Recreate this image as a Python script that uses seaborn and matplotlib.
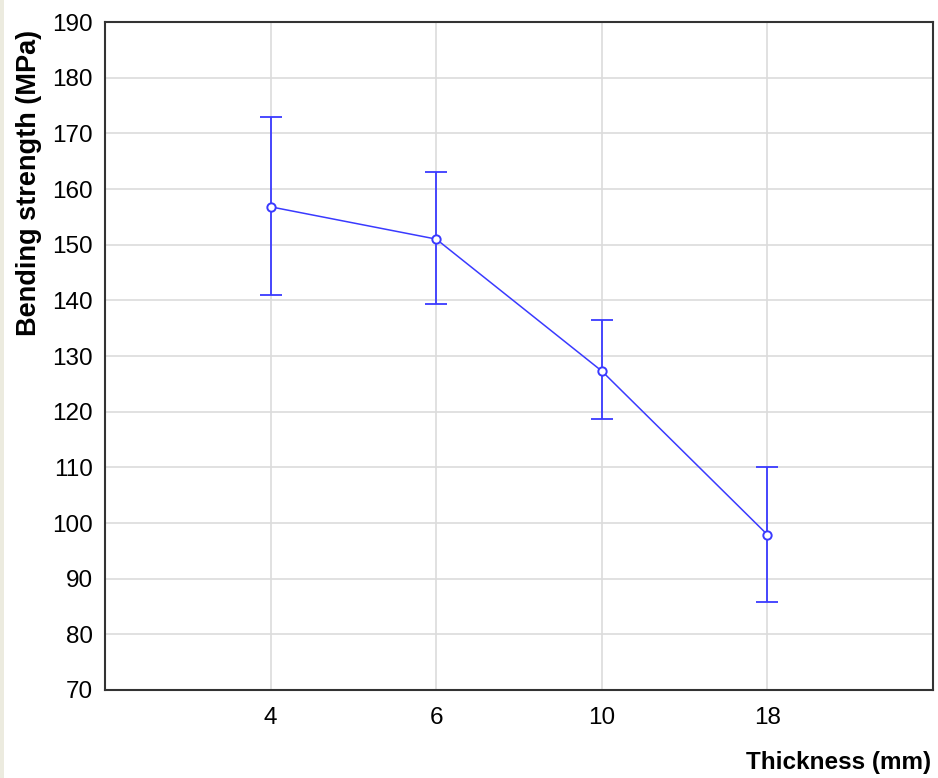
import matplotlib
matplotlib.use("Agg")
import matplotlib.pyplot as plt
import seaborn as sns
import pandas as pd
from matplotlib.patches import Rectangle

thickness = ["4", "6", "10", "18"]
mean_strength = [156.8, 151.0, 127.3, 97.9]
upper = [172.9, 163.1, 136.5, 110.1]
lower = [141.0, 139.3, 118.7, 85.8]
yticks = [70, 80, 90, 100, 110, 120, 130, 140, 150, 160, 170, 180, 190]

sns.set_theme(style="whitegrid")
plt.rcParams["font.family"] = ["Liberation Sans", "DejaVu Sans"]

df = pd.DataFrame({"pos": range(len(thickness)), "mean": mean_strength})

fig = plt.figure(figsize=(9.38, 7.78), dpi=100)
fig.patch.set_facecolor("white")
fig.patches.append(Rectangle((0, 0), 4 / 938, 1, transform=fig.transFigure,
                             facecolor="#ecebdf", edgecolor="none", zorder=0))
ax = fig.add_axes([105 / 938, 1 - 690 / 778, (933 - 105) / 938, (690 - 22) / 778])

blue = "#3a3aff"
yerr_low = [m - l for m, l in zip(mean_strength, lower)]
yerr_up = [u - m for m, u in zip(mean_strength, upper)]
ax.errorbar(df["pos"], df["mean"], yerr=[yerr_low, yerr_up], fmt="none",
            ecolor=blue, elinewidth=1.3, capsize=8, capthick=1.3, zorder=3)
sns.lineplot(data=df, x="pos", y="mean", ax=ax, color=blue, linewidth=1.1,
             marker="o", markersize=6, markerfacecolor="white",
             markeredgecolor=blue, markeredgewidth=1.4, zorder=4)

ax.set_xlim(-1, 4)
ax.set_ylim(70, 190)
ax.set_yticks(yticks)
ax.set_xticks(range(len(thickness)))
ax.set_xticklabels(thickness)
ax.grid(True, color="#dcdcdc", linewidth=1.2)
ax.set_facecolor("white")
for s in ax.spines.values():
    s.set_color("#333333")
    s.set_linewidth(1.5)
ax.tick_params(axis="both", labelsize=17.5, colors="black", length=4, width=1,
               direction="out")
ax.tick_params(axis="x", pad=8)
ax.tick_params(axis="y", pad=5)
ax.set_xlabel("Thickness (mm)", fontsize=17.5, fontweight="bold", loc="right",
              color="black")
ax.set_ylabel("Bending strength (MPa)", fontsize=19.5, fontweight="bold", loc="top",
              color="black")
ax.xaxis.set_label_coords((931 - 105) / 828, -(751 - 690) / 668)
ax.yaxis.set_label_coords((42 - 105) / 828, 1 - (30 - 22) / 668)

fig.savefig("out.png", dpi=100)
